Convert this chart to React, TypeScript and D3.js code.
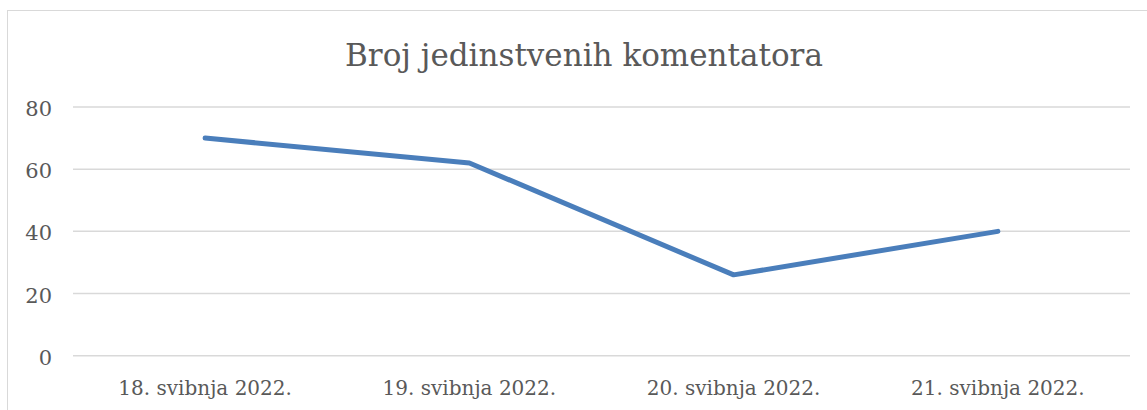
import React from "react";
import * as d3 from "d3";

const categories: string[] = ["18. svibnja 2022.", "19. svibnja 2022.", "20. svibnja 2022.", "21. svibnja 2022."];
const values: number[] = [70, 62, 26, 40];
const yTicks: number[] = [0, 20, 40, 60, 80];
const title = "Broj jedinstvenih komentatora";

const W = 1147;
const H = 410;
const FONT = "'DejaVu Serif', serif";

export default function App() {
  const x = d3.scaleBand<string>().domain(categories).range([73, 1130]);
  const y = d3.scaleLinear().domain([0, 80]).range([355.7, 107]);
  const line = d3
    .line<number>()
    .x((_, i) => (x(categories[i]) as number) + x.bandwidth() / 2)
    .y((d) => y(d));

  return (
    <svg
      width={W}
      height={H}
      style={{ position: "absolute", left: 0, top: 0, background: "#fff" }}
    >
      <rect x={7.5} y={10.5} width={W + 10} height={H + 10} fill="#fff" stroke="#d9d9d9" strokeWidth={1} />
      <text x={584} y={66} textAnchor="middle" fontFamily={FONT} fontSize={31} fill="#595959">
        {title}
      </text>
      {yTicks.map((t) => (
        <g key={t}>
          <line x1={73} x2={1130} y1={y(t)} y2={y(t)} stroke="#d9d9d9" strokeWidth={1.5} />
          <text x={52} y={y(t) + 9} textAnchor="end" fontFamily={FONT} fontSize={21} fill="#595959">
            {t}
          </text>
        </g>
      ))}
      {categories.map((c) => (
        <text
          key={c}
          x={(x(c) as number) + x.bandwidth() / 2}
          y={395}
          textAnchor="middle"
          fontFamily={FONT}
          fontSize={20}
          fill="#595959"
        >
          {c}
        </text>
      ))}
      <path d={line(values) || ""} fill="none" stroke="#4a7ebb" strokeWidth={5} strokeLinecap="round" strokeLinejoin="round" />
    </svg>
  );
}
